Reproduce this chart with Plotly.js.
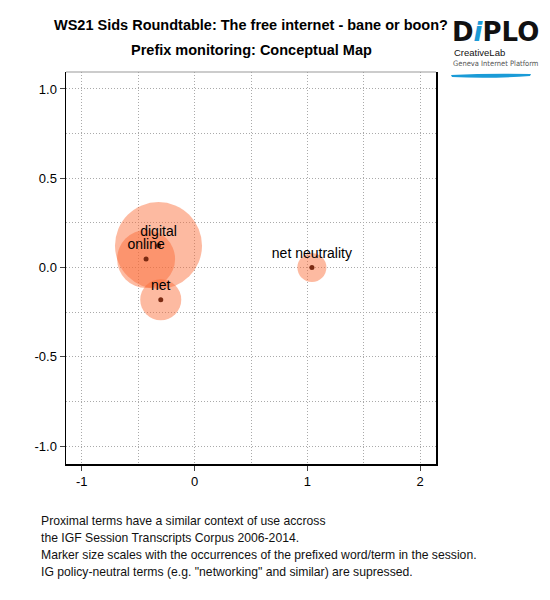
<!DOCTYPE html>
<html>
<head>
<meta charset="utf-8">
<script src="https://cdn.plot.ly/plotly-3.0.1.min.js"></script>
<style>
  body { margin: 0; background: #fff; }
  #chart { width: 550px; height: 600px; }
</style>
</head>
<body>
<div id="chart"></div>
<script>
// Terms and their coordinates on the conceptual map
const terms = ['digital', 'online', 'net', 'net neutrality'];
const xPos = [-0.32, -0.43, -0.30, 1.04];
const yPos = [0.123, 0.048, -0.18, 0.0];
// occurrences of each prefixed term in the session
const occurrences = [9, 4, 2, 1];

const xTickVals = [-1, 0, 1, 2];
const xTickText = ['-1', '0', '1', '2'];
const yTickVals = [-1, -0.5, 0, 0.5, 1];
const yTickText = ['-1.0', '-0.5', '0.0', '0.5', '1.0'];

const notes = [
    'Proximal terms have a similar context of use accross',
    'the IGF Session Transcripts Corpus 2006-2014.',
    'Marker size scales with the occurrences of the prefixed word/term in the session.',
    'IG policy-neutral terms (e.g. "networking" and similar) are supressed.'
];

// plot area in pixels, used to place the decorations
const plotL = 66, plotR = 436, plotT = 72, plotB = 464;
const px2x = px => (px - plotL) / (plotR - plotL);
const px2y = py => (plotB - py) / (plotB - plotT);

const font = 'Liberation Sans, Arial, sans-serif';
const maxDiam = 87;
const grid = { showgrid: true, gridcolor: '#aaa', griddash: '1px,2px', gridwidth: 1 };

const bubbles = {
    x: xPos, y: yPos,
    mode: 'markers',
    type: 'scatter',
    hoverinfo: 'skip',
    marker: {
        size: occurrences,
        sizemode: 'area',
        sizeref: 2 * Math.max(...occurrences) / (maxDiam * maxDiam),
        color: 'rgba(250,105,50,0.46)',
        opacity: 1,
        line: { width: 0 }
    }
};

const centres = {
    x: xPos, y: yPos,
    mode: 'markers',
    type: 'scatter',
    marker: { size: 5, color: '#7a2a12' }
};

// invisible marker only lifts the label above the centre dot
const labels = {
    x: xPos, y: yPos,
    text: terms,
    mode: 'markers+text',
    type: 'scatter',
    textposition: 'top center',
    marker: { size: 8, color: 'rgba(0,0,0,0)' },
    textfont: { family: font, size: 14, color: '#000' }
};

const annotations = [
    { text: '<b>WS21 Sids Roundtable: The free internet - bane or boon?</b>', x: 0.5, y: px2y(25),
      font: { family: font, size: 14.5, color: '#000' } },
    { text: '<b>Prefix monitoring: Conceptual Map</b>', x: 0.5, y: px2y(50),
      font: { family: font, size: 14.5, color: '#000' } },
    // logo
    { text: '<b>D<i style="color:#1a9bd7">i</i>PLO</b>', x: px2x(496), y: px2y(32),
      font: { family: 'DejaVu Sans, sans-serif', size: 26, color: '#111' } },
    { text: 'CreativeLab', x: px2x(452), y: px2y(52), xanchor: 'left',
      font: { family: font, size: 9.5, color: '#111' } },
    { text: 'Geneva Internet Platform', x: px2x(451), y: px2y(64), xanchor: 'left',
      font: { family: 'Liberation Sans Narrow, DejaVu Sans Condensed, sans-serif', size: 7.5, color: '#555' } }
].map(a => Object.assign({ xref: 'paper', yref: 'paper', showarrow: false, xanchor: 'center', yanchor: 'middle' }, a));

notes.forEach((t, i) => {
    annotations.push({
        text: t, xref: 'paper', yref: 'paper', showarrow: false,
        x: px2x(39), y: px2y(521 + i * 17), xanchor: 'left', yanchor: 'middle',
        font: { family: font, size: 12.2, color: '#111' }
    });
});

const swoosh = 'M ' + px2x(451) + ' ' + px2y(75) +
    ' Q ' + px2x(490) + ' ' + px2y(73) + ' ' + px2x(531) + ' ' + px2y(74) +
    ' L ' + px2x(530) + ' ' + px2y(76) +
    ' Q ' + px2x(490) + ' ' + px2y(79) + ' ' + px2x(452) + ' ' + px2y(77) + ' Z';

const layout = {
    width: 550, height: 600,
    margin: { l: plotL, r: 550 - plotR, t: plotT, b: 600 - plotB },
    paper_bgcolor: '#fff', plot_bgcolor: '#fff',
    showlegend: false,
    font: { family: font, size: 13, color: '#000' },
    xaxis: Object.assign({
        range: [-1.14, 2.14],
        tickmode: 'array', tickvals: xTickVals, ticktext: xTickText,
        ticks: 'outside', ticklen: 5, tickcolor: '#444',
        showline: true, linecolor: '#000', linewidth: 1.5,
        minor: Object.assign({ tickmode: 'linear', tick0: 0, dtick: 0.5 }, grid),
        zeroline: false, fixedrange: true
    }, grid),
    yaxis: Object.assign({
        range: [-1.1, 1.095],
        tickmode: 'array', tickvals: yTickVals, ticktext: yTickText,
        ticks: 'outside', ticklen: 5, tickcolor: '#444',
        showline: true, mirror: true, linecolor: '#000', linewidth: 1.5,
        minor: Object.assign({ tickmode: 'linear', tick0: 0, dtick: 0.25 }, grid),
        zeroline: false, fixedrange: true
    }, grid),
    shapes: [
        { type: 'line', xref: 'paper', yref: 'paper', x0: 0, x1: 1, y0: 1, y1: 1,
          line: { color: '#999', width: 1 } },
        { type: 'path', xref: 'paper', yref: 'paper', path: swoosh,
          fillcolor: '#1a9bd7', line: { width: 0 } }
    ],
    annotations: annotations
};

Plotly.newPlot('chart', [bubbles, centres, labels], layout, { displayModeBar: false, staticPlot: true });
</script>
</body>
</html>
